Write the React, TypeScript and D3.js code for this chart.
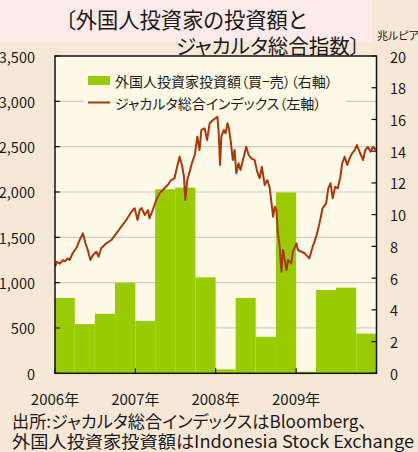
import React from "react";
import * as d3 from "d3";

// ---- Data ----
const leftTicks = [0, 500, 1000, 1500, 2000, 2500, 3000, 3500];
const rightTicks = [0, 2, 4, 6, 8, 10, 12, 14, 16, 18, 20];
const yearLabels = ["2006年", "2007年", "2008年", "2009年"];
const yearStarts = ["2006-01-01", "2007-01-01", "2008-01-01", "2009-01-01"];

// Quarterly foreign investor net purchases (兆ルピア, right axis)
const quarters = [
  "2006-01-01", "2006-04-01", "2006-07-01", "2006-10-01",
  "2007-01-01", "2007-04-01", "2007-07-01", "2007-10-01",
  "2008-01-01", "2008-04-01", "2008-07-01", "2008-10-01",
  "2009-01-01", "2009-04-01", "2009-07-01", "2009-10-01",
];
const foreignNet = [4.75, 3.1, 3.75, 5.7, 3.3, 11.6, 11.7, 6.05, 0.25, 4.75, 2.3, 11.4, 0.1, 5.25, 5.4, 2.5];

// Jakarta Composite Index (left axis)
const jciDates = [
  "2006-01-02", "2006-01-10", "2006-01-23", "2006-02-06", "2006-02-15", "2006-03-01", "2006-03-08",
  "2006-03-23", "2006-04-08", "2006-04-23", "2006-05-08", "2006-05-19", "2006-05-30", "2006-06-11",
  "2006-06-23", "2006-07-08", "2006-07-18", "2006-07-30", "2006-08-22", "2006-09-14", "2006-10-07",
  "2006-10-29", "2006-11-21", "2006-12-14", "2006-12-29",
  "2007-01-11", "2007-01-21", "2007-01-29", "2007-02-13", "2007-02-28", "2007-03-06", "2007-03-21",
  "2007-04-06", "2007-04-21", "2007-05-13", "2007-05-28", "2007-06-13", "2007-06-28", "2007-07-10",
  "2007-07-21", "2007-08-01", "2007-08-10", "2007-08-16", "2007-08-25", "2007-09-05", "2007-09-15",
  "2007-09-28", "2007-10-10", "2007-10-20", "2007-10-28", "2007-11-12", "2007-11-23", "2007-12-05",
  "2007-12-20", "2007-12-31",
  "2008-01-09", "2008-01-15", "2008-01-21", "2008-01-27", "2008-02-07", "2008-02-15", "2008-02-24",
  "2008-02-29", "2008-03-09", "2008-03-19", "2008-03-27", "2008-04-04", "2008-04-14", "2008-04-23",
  "2008-05-04", "2008-05-19", "2008-05-30", "2008-06-11", "2008-06-26", "2008-07-08", "2008-07-19",
  "2008-07-29", "2008-08-11", "2008-08-23", "2008-09-03", "2008-09-11", "2008-09-18", "2008-09-26",
  "2008-10-03", "2008-10-10", "2008-10-18", "2008-10-26", "2008-11-02", "2008-11-10", "2008-11-18",
  "2008-11-25", "2008-12-10", "2008-12-17",
  "2009-01-02", "2009-01-09", "2009-01-25", "2009-02-09", "2009-02-22", "2009-03-02", "2009-03-17",
  "2009-04-02", "2009-04-17", "2009-05-01", "2009-05-17", "2009-05-27", "2009-06-06", "2009-06-16",
  "2009-06-27", "2009-07-09", "2009-07-21", "2009-07-29", "2009-08-09", "2009-08-21", "2009-09-01",
  "2009-09-12", "2009-09-24", "2009-10-04", "2009-10-16", "2009-11-01", "2009-11-11", "2009-11-23",
  "2009-12-05", "2009-12-16", "2009-12-30",
];
const jciValues = [
  1180, 1230, 1210, 1250, 1235, 1265, 1250,
  1327, 1382, 1470, 1544, 1437, 1360, 1250,
  1305, 1341, 1286, 1379, 1434, 1470, 1544,
  1617, 1691, 1782, 1820,
  1691, 1801, 1823, 1746, 1801, 1710, 1801,
  1912, 1985, 2041, 2077, 2132, 2151, 2279,
  2389, 2298, 2169, 1912, 2132, 2224, 2316,
  2408, 2610, 2463, 2684, 2702, 2573, 2758,
  2794, 2813,
  2830, 2647, 2298, 2610, 2684, 2647, 2758,
  2720, 2573, 2353, 2463, 2206, 2316, 2242,
  2353, 2499, 2408, 2371, 2353, 2224, 2151,
  2279, 2077, 2132, 2041, 1875, 1727, 1838,
  1801, 1544, 1396, 1121, 1360, 1250, 1139,
  1250, 1213, 1341,
  1434, 1360, 1341, 1324, 1286, 1268, 1396,
  1507, 1655, 1820, 1875, 2041, 2096, 1930,
  2058, 2041, 2169, 2316, 2389, 2298, 2371,
  2427, 2463, 2518, 2444, 2353, 2463, 2499,
  2444, 2499, 2463,
];

const W = 418;
const H = 452;
const plot = { left: 55, right: 376.5, top: 56, bottom: 373.3 };
const FONT = "'Noto Sans CJK JP', 'Noto Sans', sans-serif";

export default function App() {
  const parse = d3.timeParse("%Y-%m-%d");
  const x = d3
    .scaleTime()
    .domain([parse("2006-01-01")!, parse("2010-01-01")!])
    .range([plot.left, plot.right]);
  const yL = d3.scaleLinear().domain([0, 3500]).range([plot.bottom, plot.top]);
  const yR = d3.scaleLinear().domain([0, 20]).range([plot.bottom, plot.top]);

  const qDates = quarters.map((q) => parse(q)!);
  const qEnds = qDates.map((d) => d3.timeMonth.offset(d, 3));

  const linePts: [Date, number][] = jciDates.map((d, i) => [parse(d)!, jciValues[i]]);
  const lineGen = d3
    .line<[Date, number]>()
    .x((d) => x(d[0]))
    .y((d) => yL(d[1]));

  const green = "#99cc00";
  const brown = "#a8380a";
  const txt = "#1a1a1a";
  const palt = { fontFeatureSettings: "'palt'" };

  return (
    <svg
      width={W}
      height={H}
      style={{ position: "absolute", left: 0, top: 0, display: "block" }}
      fontFamily={FONT}
    >
      <rect x={0} y={0} width={W} height={H} fill="#f7e7d7" />
      <rect x={0} y={0} width={372} height={42} fill="#fdeaea" />
      {/* plot bg */}
      <rect
        x={plot.left}
        y={plot.top}
        width={plot.right - plot.left}
        height={plot.bottom - plot.top}
        fill="#fffae8"
      />
      {/* gridlines */}
      {leftTicks
        .filter((t) => t > 0 && t < 3500)
        .map((t) => (
          <line
            key={"g" + t}
            x1={plot.left}
            x2={plot.right}
            y1={yL(t)}
            y2={yL(t)}
            stroke="#cccccc"
            strokeWidth={1.2}
          />
        ))}
      {/* bars */}
      {foreignNet.map((v, i) => (
        <rect
          key={"b" + i}
          x={x(qDates[i])}
          width={x(qEnds[i]) - x(qDates[i])}
          y={yR(v)}
          height={yR(0) - yR(v)}
          fill={green}
        />
      ))}
      {/* line */}
      <path d={lineGen(linePts) || ""} fill="none" stroke={brown} strokeWidth={2} strokeLinejoin="round" />

      {/* legend */}
      <rect x={84} y={70} width={262} height={40} fill="#fffae8" />
      <rect x={88} y={76} width={22} height={9} fill={green} />
      <text x={115} y={81} dominantBaseline="central" fontSize={14} fill={txt} style={palt}>
        外国人投資家投資額（買−売）（右軸）
      </text>
      <line x1={88} x2={110} y1={102.5} y2={102.5} stroke={brown} strokeWidth={2} />
      <text x={115} y={102.5} dominantBaseline="central" fontSize={14} fill={txt} style={palt}>
        ジャカルタ総合インデックス（左軸）
      </text>

      {/* frame */}
      <rect
        x={plot.left}
        y={plot.top}
        width={plot.right - plot.left}
        height={plot.bottom - plot.top}
        fill="none"
        stroke="#111"
        strokeWidth={1.5}
      />
      {/* left ticks */}
      {leftTicks.map((t) => (
        <g key={"l" + t}>
          <line x1={plot.left} x2={plot.left + 5} y1={yL(t)} y2={yL(t)} stroke="#111" strokeWidth={1.2} />
          <text x={35} y={yL(t)} textAnchor="end" dominantBaseline="central" fontSize={14.5} fill={txt}>
            {d3.format(",")(t)}
          </text>
        </g>
      ))}
      {/* right ticks */}
      {rightTicks.map((t) => (
        <g key={"r" + t}>
          <line x1={plot.right - 5} x2={plot.right} y1={yR(t)} y2={yR(t)} stroke="#111" strokeWidth={1.2} />
          <text x={390} y={yR(t)} textAnchor="start" dominantBaseline="central" fontSize={14.5} fill={txt}>
            {t}
          </text>
        </g>
      ))}
      {/* x ticks */}
      {yearStarts.map((s, i) => {
        const xx = x(parse(s)!);
        return (
          <g key={"x" + i}>
            <line x1={xx} x2={xx} y1={plot.bottom} y2={plot.bottom - 5} stroke="#111" strokeWidth={1.2} />
            <text x={xx} y={398} textAnchor="middle" dominantBaseline="central" fontSize={15} fill={txt}>
              {yearLabels[i]}
            </text>
          </g>
        );
      })}

      {/* title */}
      <text x={65} y={28} fontSize={21.3} fill={txt} style={palt}>
        〔外国人投資家の投資額と
      </text>
      <text x={360} y={54} textAnchor="end" fontSize={20.5} fill={txt} style={palt}>
        ジャカルタ総合指数〕
      </text>
      <text x={377} y={40} fontSize={11} fill={txt} style={palt}>
        兆ルピア
      </text>

      {/* source */}
      <text x={12} y={428} fontSize={17.2} textLength={355} lengthAdjust="spacingAndGlyphs" fill={txt} style={palt}>
        出所:ジャカルタ総合インデックスはBloomberg、
      </text>
      <text x={12} y={448} fontSize={17.2} textLength={402} lengthAdjust="spacingAndGlyphs" fill={txt} style={palt}>
        外国人投資家投資額はIndonesia Stock Exchange
      </text>
    </svg>
  );
}
